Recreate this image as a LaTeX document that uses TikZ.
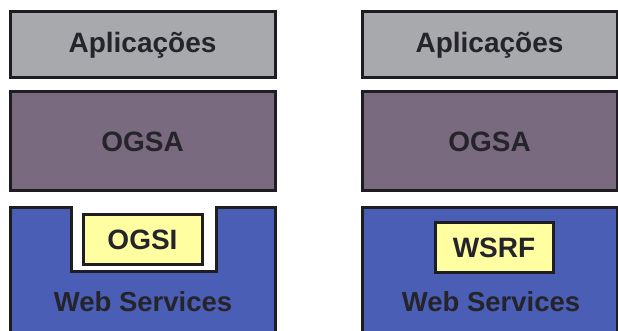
\documentclass[tikz,border=0pt]{standalone}
\usepackage{fontspec}
\setmainfont{Liberation Sans}
\definecolor{appgray}{HTML}{A8A9AD}
\definecolor{ogsamauve}{HTML}{7A6A80}
\definecolor{wsblue}{HTML}{4A5EB6}
\definecolor{specyellow}{HTML}{FFFFA2}
\definecolor{edge}{HTML}{1E1E22}
\definecolor{ink}{HTML}{24242A}
\tikzset{
  layer/.style={draw=edge, line width=3pt, inner sep=0pt, text=ink,
    font=\bfseries\fontsize{28}{30}\selectfont},
  spec/.style={layer, fill=specyellow, minimum height=50pt},
  label/.style={inner sep=0pt, text=ink, font=\bfseries\fontsize{27.5}{30}\selectfont}
}
\begin{document}
\begin{tikzpicture}[x=1pt,y=-1pt]
  \useasboundingbox (0,0) rectangle (618,331);
  \fill[white] (0,0) rectangle (618,331);
  \clip (0,0) rectangle (618,331);

  % left stack: OGSI sits in a notch cut into the Web Services layer
  \node[layer, fill=appgray, minimum width=265pt, minimum height=66pt] (appL) at (142.5,45) {Aplicações};
  \node[layer, fill=ogsamauve, minimum width=265pt, minimum height=99pt] (ogsaL) at (142.5,141.5) {OGSA};
  \draw[draw=edge, line width=3pt, fill=wsblue]
    (10,360) -- (10,207) -- (71,207) -- (71,271) -- (216,271) -- (216,207) -- (275,207) -- (275,360);
  \node[spec, minimum width=119pt] (ogsi) at (142.5,239.5) {OGSI};
  \node[label] (wsL) at (143,302) {Web Services};

  % right stack: WSRF placed inside the Web Services layer
  \node[layer, fill=appgray, minimum width=255pt, minimum height=66pt] (appR) at (489.5,45) {Aplicações};
  \node[layer, fill=ogsamauve, minimum width=255pt, minimum height=99pt] (ogsaR) at (489.5,141.5) {OGSA};
  \draw[draw=edge, line width=3pt, fill=wsblue] (362,360) rectangle (617,207);
  \node[spec, minimum width=118pt] (wsrf) at (494,247.5) {WSRF};
  \node[label] (wsR) at (491,302) {Web Services};
\end{tikzpicture}
\end{document}
